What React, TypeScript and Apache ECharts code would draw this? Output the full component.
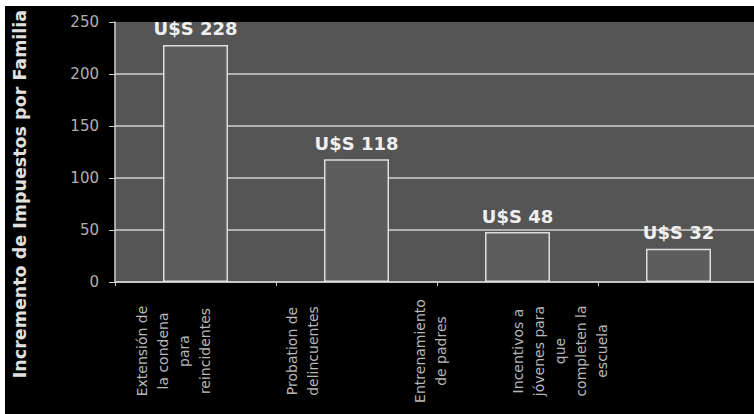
import React, { useEffect, useRef } from 'react';
import * as echarts from 'echarts';

const categories: string[] = [
  'Extensión de\nla condena\npara\nreincidentes',
  'Probation de\ndelincuentes',
  'Entrenamiento\nde padres',
  'Incentivos a\njóvenes para\nque\ncompleten la\nescuela',
];
const taxIncrease: number[] = [228, 118, 48, 32];
const yMin = 0;
const yMax = 250;
const yStep = 50;
const valuePrefix = 'U$S ';
const yTitle = 'Incremento de Impuestos por Familia';

export default function App() {
  const ref = useRef<HTMLDivElement>(null);
  useEffect(() => {
    if (!ref.current) return;
    const chart = echarts.init(ref.current, null, { renderer: 'svg' });
    chart.setOption({
      animation: false,
      backgroundColor: '#000',
      grid: [
        { left: 110, top: 16, width: 644, height: 260, show: true, backgroundColor: '#555555', borderWidth: 0, outerBoundsMode: 'none', containLabel: false },
        { left: 104, top: 16, width: 515, height: 260, show: false, outerBoundsMode: 'none', containLabel: false },
      ],
      xAxis: [
        {
          type: 'category',
          gridIndex: 0,
          data: categories,
          axisLine: { show: true, lineStyle: { color: '#cfcfcf', width: 1.5 } },
          axisTick: { show: true, length: 4, lineStyle: { color: '#cfcfcf' } },
          axisLabel: { show: false },
        },
        {
          type: 'category',
          gridIndex: 1,
          data: categories,
          axisLine: { show: false },
          axisTick: { show: false },
          axisLabel: {
            interval: 0,
            rotate: 90,
            align: 'center',
            verticalAlign: 'middle',
            margin: 69,
            color: '#b8b8b8',
            fontFamily: 'DejaVu Sans',
            fontSize: 14,
            lineHeight: 21,
          },
        },
      ],
      yAxis: [
        {
          type: 'value',
          gridIndex: 0,
          min: yMin,
          max: yMax,
          interval: yStep,
          name: yTitle,
          nameLocation: 'middle',
          nameGap: 86,
          nameTextStyle: {
            color: '#e0e0e0',
            fontFamily: 'DejaVu Sans',
            fontWeight: 'bold',
            fontSize: 17.5,
            padding: [0, 84, 0, 0],
          },
          axisLine: { show: true, lineStyle: { color: '#cfcfcf', width: 1.5 } },
          axisTick: { show: true, length: 6, lineStyle: { color: '#cfcfcf' } },
          axisLabel: { color: '#b0b0b0', fontFamily: 'DejaVu Sans', fontSize: 15, margin: 16 },
          splitLine: { show: true, showMaxLine: false, lineStyle: { color: '#d0d0d0', width: 1.5 } },
        },
        { type: 'value', gridIndex: 1, show: false },
      ],
      series: [
        {
          type: 'bar',
          xAxisIndex: 0,
          yAxisIndex: 0,
          data: taxIncrease,
          barWidth: 65,
          itemStyle: { color: '#5d5d5d', borderColor: '#dedede', borderWidth: 1.5 },
          label: {
            show: true,
            position: 'top',
            distance: 7,
            formatter: (p: any) => valuePrefix + p.value,
            color: '#efefef',
            fontFamily: 'DejaVu Sans',
            fontWeight: 'bold',
            fontSize: 18,
          },
        },
      ],
    });
    return () => chart.dispose();
  }, []);
  return (
    <div style={{ position: 'absolute', left: 0, top: 0, width: 754, height: 414, background: '#fff' }}>
      <div ref={ref} style={{ position: 'absolute', left: 5, top: 6, width: 749, height: 408 }} />
    </div>
  );
}
